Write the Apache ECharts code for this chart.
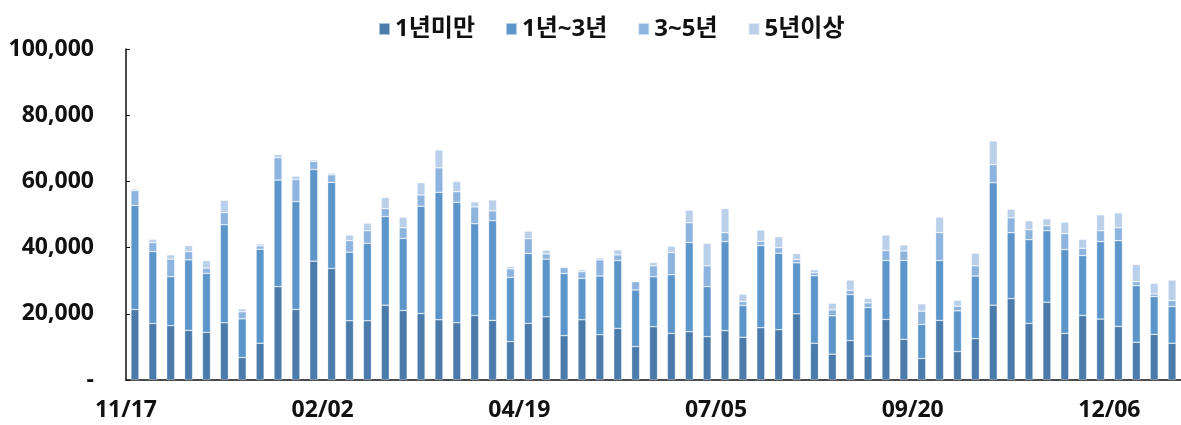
<!DOCTYPE html>
<html>
<head>
<meta charset="utf-8">
<script src="https://cdn.jsdelivr.net/npm/echarts@6/dist/echarts.min.js"></script>
<style>
  html, body { margin: 0; padding: 0; background: #fff; }
  #chart { width: 1181px; height: 425px; }
</style>
</head>
<body>
<div id="chart"></div>
<script>
// Weekly periods (MM/DD)
const weeks = [
  '11/17','11/24','12/01','12/08','12/15','12/22','12/29','01/05','01/12','01/19',
  '01/26','02/02','02/09','02/16','02/23','03/01','03/08','03/15','03/22','03/29',
  '04/05','04/12','04/19','04/26','05/03','05/10','05/17','05/24','05/31','06/07',
  '06/14','06/21','06/28','07/05','07/12','07/19','07/26','08/02','08/09','08/16',
  '08/23','08/30','09/06','09/13','09/20','09/27','10/04','10/11','10/18','10/25',
  '11/01','11/08','11/15','11/22','11/29','12/06','12/13','12/20','12/27'
];

// Weeks whose date is printed under the axis
const labeledWeeks = ['11/17', '02/02', '04/19', '07/05', '09/20', '12/06'];

const seriesNames = ['1년미만', '1년~3년', '3~5년', '5년이상'];

// Counts per tenure band
const under1y = [
  21300,17100,16400,15000,14400,17300,6800,11100,28200,21300,
  35900,33700,17900,17900,22600,21000,20100,18200,17300,19500,
  18000,11600,17100,19100,13400,18200,13700,15600,10100,16100,
  14100,14600,13100,14900,12900,15800,15200,20000,11100,7800,
  11900,7200,18300,12300,6500,18000,8600,12500,22600,24600,
  17100,23500,14100,19500,18400,16200,11400,13800,11100
];
const y1to3 = [
  31400,21700,14800,21300,17800,29600,11700,28400,32200,32600,
  27700,26000,20700,23400,26800,21800,32400,38500,36400,27700,
  30100,19400,21100,17400,18800,12500,17700,20500,17100,15100,
  17700,26900,15100,26900,9600,24800,23100,15400,20400,11600,
  13900,14700,17800,23800,10300,18100,12300,18900,37000,19900,
  25300,21600,25300,18100,23400,25900,17100,11400,11100
];
const y3to5 = [
  4500,2700,5300,2500,1600,3700,2100,1000,6800,6700,
  2400,2300,3500,3800,2400,3200,3400,7400,3200,5100,
  3000,2600,4500,1600,1800,2000,4900,1700,2500,3300,
  6700,6000,6300,2700,1200,1300,1700,1000,900,1800,
  1300,1400,3000,2900,4000,8400,1400,3100,5500,4500,
  3000,1500,4800,2200,3300,3900,1200,800,1800
];
const over5y = [
  500,1000,1300,1800,2300,3700,900,600,900,1000,
  500,500,1700,2300,3300,3200,3700,5400,3100,1500,
  3300,700,2300,1100,300,600,600,1500,200,1000,
  1900,3800,6800,7300,2200,3400,3300,1800,900,2000,
  3100,1400,4700,1800,2200,4700,1800,3800,7100,2600,
  2700,2100,3500,2700,4800,4500,5200,3200,6200
];

const colors = ['#4a7bab', '#5b95ca', '#8db3df', '#b9cfea'];
const values = [under1y, y1to3, y3to5, over5y];

const font = "'Open Sans', 'Noto Sans CJK KR', sans-serif";

const chart = echarts.init(document.getElementById('chart'));
chart.setOption({
  animation: false,
  color: colors,
  legend: {
    left: 373,
    top: 12,
    itemWidth: 11,
    itemHeight: 12,
    itemGap: 30,
    icon: 'rect',
    textStyle: { fontFamily: font, fontWeight: 'bold', fontSize: 24, color: '#111' },
    data: seriesNames
  },
  grid: { left: 126, top: 49, width: 1058, height: 331 },
  xAxis: {
    type: 'category',
    data: weeks,
    boundaryGap: true,
    axisLine: { lineStyle: { color: '#111', width: 1.5 } },
    axisTick: { inside: true, length: 4, interval: 0, lineStyle: { color: '#111', width: 1 } },
    axisLabel: {
      interval: (i, v) => labeledWeeks.includes(v),
      margin: 19,
      fontFamily: font,
      fontWeight: 'bold',
      fontSize: 23,
      color: '#111',
      padding: [0, 18, 0, 0]
    },
    splitLine: { show: false }
  },
  yAxis: {
    type: 'value',
    min: 0,
    max: 100000,
    interval: 20000,
    axisLine: { show: true, lineStyle: { color: '#111', width: 1.5 } },
    axisTick: { show: true, inside: true, length: 4, lineStyle: { color: '#111', width: 1 } },
    splitLine: { show: false },
    axisLabel: {
      margin: 32,
      fontFamily: font,
      fontWeight: 'bold',
      fontSize: 23,
      color: '#111',
      formatter: v => v === 0 ? '-' : v.toLocaleString('en-US')
    }
  },
  series: seriesNames.map((name, k) => ({
    name,
    type: 'bar',
    stack: 'total',
    barWidth: 8,
    data: values[k],
    itemStyle: { color: colors[k], borderColor: 'rgba(255,255,255,0.55)', borderWidth: 0.6 }
  }))
});
</script>
</body>
</html>
